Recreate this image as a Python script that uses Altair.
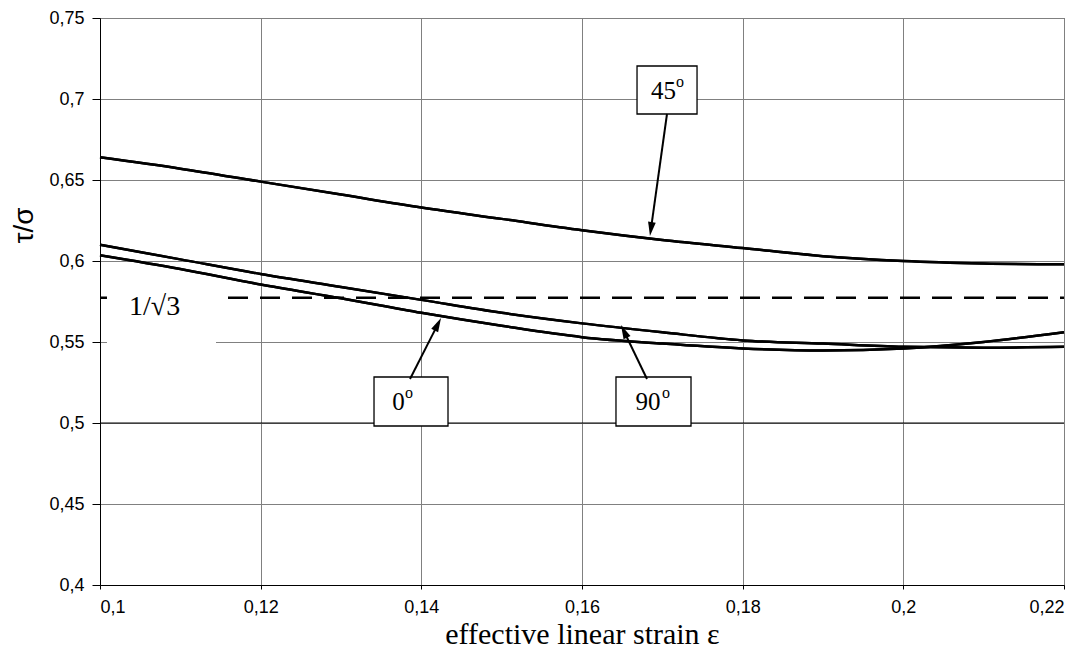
import math
import altair as alt
import pandas as pd

# ---- data ----
strain = [0.10, 0.11, 0.12, 0.13, 0.14, 0.15, 0.16, 0.17, 0.18, 0.19, 0.20, 0.21, 0.22]
ratio_45 = [0.664, 0.657, 0.649, 0.641, 0.633, 0.626, 0.619, 0.613, 0.608, 0.603, 0.600, 0.5985, 0.598]
ratio_90 = [0.610, 0.601, 0.592, 0.584, 0.576, 0.568, 0.5615, 0.556, 0.551, 0.549, 0.547, 0.5465, 0.547]
ratio_0 = [0.6035, 0.595, 0.5855, 0.577, 0.568, 0.560, 0.553, 0.549, 0.546, 0.5447, 0.546, 0.550, 0.556]

x_ticks = [0.1, 0.12, 0.14, 0.16, 0.18, 0.2, 0.22]
y_ticks = [0.4, 0.45, 0.5, 0.55, 0.6, 0.65, 0.7, 0.75]
ref_value = 1 / math.sqrt(3)

# annotation boxes (data units)
box_labels = ["45", "0", "90"]
box_x1 = [0.16685, 0.13411, 0.16423]
box_x2 = [0.17432, 0.14332, 0.17357]
box_y1 = [0.72037, 0.52840, 0.52840]
box_y2 = [0.69074, 0.49815, 0.49815]
# arrows: start (at box) and tip (on curve)
arr_x0 = [0.17058, 0.13859, 0.16809]
arr_y0 = [0.69074, 0.52716, 0.52716]
arr_x1 = [0.16846, 0.14245, 0.16485]
arr_y1 = [0.61543, 0.56481, 0.56049]

# text nudges inside boxes (pixels): main label dx, superscript dx
main_dx = [-3.5, -12.5, -5.5]
sup_dx = [9, -6, 8.5]

W, H = 964, 567
XD = [0.1, 0.22]
YD = [0.4, 0.75]

def px(v):
    return (v - XD[0]) / (XD[1] - XD[0]) * W

def py(v):
    return (YD[1] - v) / (YD[1] - YD[0]) * H

def inv_x(p):
    return XD[0] + p / W * (XD[1] - XD[0])

def inv_y(p):
    return YD[1] - p / H * (YD[1] - YD[0])

rows = []
for name, vals in [("45", ratio_45), ("90", ratio_90), ("0", ratio_0)]:
    for s, v in zip(strain, vals):
        rows.append({"strain": s, "ratio": v, "angle": name})
curves = pd.DataFrame(rows)

boxes = pd.DataFrame({"label": box_labels, "x1": box_x1, "x2": box_x2, "y1": box_y1, "y2": box_y2})
boxes["xc"] = (boxes.x1 + boxes.x2) / 2
boxes["yc"] = (boxes.y1 + boxes.y2) / 2

HEAD_UNIT = 7.0
arr_rows = []
head_rows = []
for i in range(3):
    x0p, y0p, x1p, y1p = px(arr_x0[i]), py(arr_y0[i]), px(arr_x1[i]), py(arr_y1[i])
    dx, dy = x1p - x0p, y1p - y0p
    L = math.hypot(dx, dy)
    ux, uy = dx / L, dy / L
    ang = math.degrees(math.atan2(dx, -dy)) % 360
    hx, hy = x1p - ux * HEAD_UNIT, y1p - uy * HEAD_UNIT
    ex, ey = x1p - ux * HEAD_UNIT * 1.5, y1p - uy * HEAD_UNIT * 1.5
    arr_rows.append({"x": arr_x0[i], "y": arr_y0[i], "x2": inv_x(ex), "y2": inv_y(ey)})
    head_rows.append({"x": inv_x(hx), "y": inv_y(hy), "ang": ang})
arrows = pd.DataFrame(arr_rows)
heads = pd.DataFrame(head_rows)

xs = alt.Scale(domain=XD, nice=False, zero=False)
ys = alt.Scale(domain=YD, nice=False, zero=False)

base_x = alt.X(
    "strain:Q", scale=xs,
    axis=alt.Axis(
        values=x_ticks, title="effective linear strain ε",
        labelExpr="replace(toString(datum.value), '.', ',')",
        tickSize=4, labelPadding=9,
        titleFont="Liberation Serif", titleFontSize=30, titleFontWeight="normal",
        titleBaseline="alphabetic", titleY=58,
    ),
)
base_y = alt.Y(
    "ratio:Q", scale=ys,
    axis=alt.Axis(
        values=y_ticks, title="τ/σ",
        labelExpr="replace(toString(datum.value), '.', ',')",
        tickSize=8, labelPadding=8,
        titleFont="Liberation Sans", titleFontSize=28, titleFontWeight="normal",
        titleX=-76, titleY=207, titleAngle=270, titleAlign="center", titleBaseline="middle",
    ),
)

lines = alt.Chart(curves).mark_line(color="black", strokeWidth=2.5, interpolate="monotone").encode(
    x=base_x, y=base_y, detail="angle:N"
)

rule50 = alt.Chart(pd.DataFrame({"y": [0.5]})).mark_rule(color="black", strokeWidth=1).encode(
    y=alt.Y("y:Q", scale=ys)
)

dash = alt.Chart(pd.DataFrame({"x": [0.1], "x2": [0.22], "y": [ref_value]})).mark_rule(
    color="black", strokeWidth=2.5, strokeDash=[20, 12]
).encode(x=alt.X("x:Q", scale=xs), x2="x2", y=alt.Y("y:Q", scale=ys))

label_bg = alt.Chart(pd.DataFrame({"x": [0.10087], "x2": [0.11444], "y": [0.58519], "y2": [0.54815]})).mark_rect(
    color="white"
).encode(x=alt.X("x:Q", scale=xs), x2="x2", y=alt.Y("y:Q", scale=ys), y2="y2")

ref_text = alt.Chart(pd.DataFrame({"x": [0.1068], "y": [0.5667], "t": ["1/√3"]})).mark_text(
    font="Liberation Serif", fontSize=28, color="black", baseline="alphabetic", align="center"
).encode(x=alt.X("x:Q", scale=xs), y=alt.Y("y:Q", scale=ys), text="t:N")

box_rects = alt.Chart(boxes).mark_rect(fill="white", stroke="black", strokeWidth=1.3).encode(
    x=alt.X("x1:Q", scale=xs), x2="x2", y=alt.Y("y1:Q", scale=ys), y2="y2"
)

text_layers = []
for i, lab in enumerate(box_labels):
    sub = alt.Chart(boxes).transform_filter(f"datum.label == '{lab}'")
    text_layers.append(
        sub.mark_text(
            font="Liberation Serif", fontSize=25, color="black", baseline="alphabetic",
            align="center", dx=main_dx[i], dy=8.5,
        ).encode(x=alt.X("xc:Q", scale=xs), y=alt.Y("yc:Q", scale=ys), text="label:N")
    )
    text_layers.append(
        sub.mark_text(
            font="Liberation Serif", fontSize=16, color="black", baseline="alphabetic",
            align="left", dx=sup_dx[i], dy=-3.5,
        ).encode(x=alt.X("xc:Q", scale=xs), y=alt.Y("yc:Q", scale=ys), text=alt.value("o"))
    )

arrow_lines = alt.Chart(arrows).mark_rule(color="black", strokeWidth=2).encode(
    x=alt.X("x:Q", scale=xs), y=alt.Y("y:Q", scale=ys), x2="x2", y2="y2"
)
arrow_heads = alt.Chart(heads).mark_point(
    shape="M0,-1 L0.55,1 L-0.55,1 Z", filled=True, color="black", opacity=1, size=196
).encode(x=alt.X("x:Q", scale=xs), y=alt.Y("y:Q", scale=ys), angle=alt.Angle("ang:Q", scale=None))

chart = alt.layer(
    lines, rule50, dash, label_bg, lines, ref_text, box_rects, *text_layers,
    arrow_lines, arrow_heads
).properties(
    width=W, height=H,
    autosize=alt.AutoSizeParams(type="none"),
    padding={"left": 92, "top": 10, "right": 17, "bottom": 66},
    background="white",
).configure_axis(
    labelFont="Liberation Sans", labelFontSize=18, labelColor="black",
    domainColor="black", domainWidth=1, tickColor="black",
    gridColor="#808080", gridWidth=1, gridOpacity=1, titleColor="black",
).configure_view(stroke="#444", strokeWidth=1)

chart.save("out.html", embed_options={"renderer": "svg", "actions": False})
